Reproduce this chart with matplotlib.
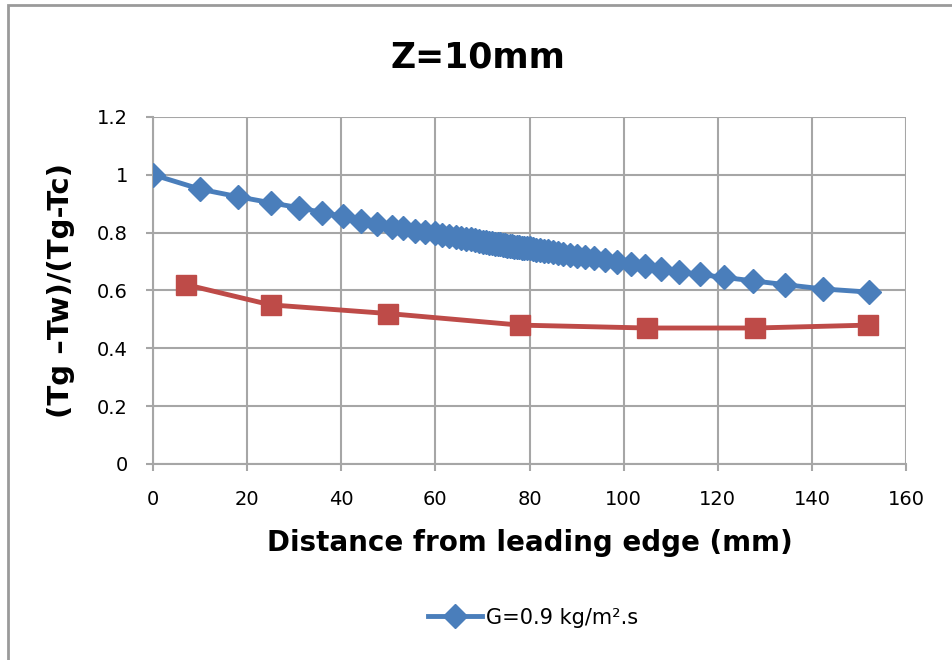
import matplotlib
matplotlib.use("Agg")
import matplotlib.pyplot as plt
from matplotlib.patches import Rectangle

# blue series: G=0.9 kg/m2.s
dist_g09 = [0, 10, 18, 25, 31, 36, 40.4, 44.3, 47.5, 50.7, 53.1, 55.7, 57.8, 59.9,
            61.5, 63, 64.3, 65.5, 66.6, 67.6, 68.5, 69.3, 70.1, 70.8, 71.5, 72.1,
            72.7, 73.3, 73.8, 74.3, 74.8, 75.3, 75.8, 76.3, 76.8, 77.3, 77.8, 78.3,
            78.8, 79.4, 80, 80.7, 81.4, 82.2, 83, 83.9, 84.9, 86, 87.2, 88.6, 90.1,
            91.8, 93.6, 96, 98.6, 101.6, 104.6, 108, 111.8, 116.2, 121.3, 127.5,
            134.3, 142.4, 152.2]
ratio_g09 = [1.0, 0.95, 0.924, 0.903, 0.886, 0.869, 0.856, 0.841, 0.831, 0.82, 0.814,
             0.807, 0.801, 0.797, 0.793, 0.789, 0.785, 0.782, 0.779, 0.776, 0.773,
             0.771, 0.769, 0.767, 0.765, 0.763, 0.762, 0.76, 0.759, 0.757, 0.756,
             0.755, 0.754, 0.752, 0.751, 0.75, 0.749, 0.748, 0.747, 0.746, 0.745,
             0.743, 0.741, 0.739, 0.737, 0.735, 0.732, 0.73, 0.727, 0.724, 0.72,
             0.716, 0.711, 0.705, 0.699, 0.691, 0.683, 0.674, 0.665, 0.655, 0.645,
             0.633, 0.62, 0.605, 0.594]

# red series
dist_red = [7, 25, 50, 78, 105, 128, 152]
ratio_red = [0.62, 0.55, 0.52, 0.48, 0.47, 0.47, 0.48]

xticks = [0, 20, 40, 60, 80, 100, 120, 140, 160]
yticks = [0, 0.2, 0.4, 0.6, 0.8, 1, 1.2]
ytick_labels = ["0", "0.2", "0.4", "0.6", "0.8", "1", "1.2"]

blue = "#4a7ebb"
red = "#be4b48"
grid_c = "#a6a6a6"

fig = plt.figure(figsize=(9.52, 6.6), dpi=100)
ax = fig.add_axes([0.1607, 0.297, 0.791, 0.526])

ax.plot(dist_red, ratio_red, color=red, lw=3.5, marker="s", markersize=14,
        zorder=3)
ax.plot(dist_g09, ratio_g09, color=blue, lw=3.5, marker="D", markersize=12,
        zorder=4, label="G=0.9 kg/m\u00b2.s")

ax.set_xlim(0, 160)
ax.set_ylim(0, 1.2)
ax.set_xticks(xticks)
ax.set_yticks(yticks)
ax.set_yticklabels(ytick_labels)
ax.tick_params(axis="both", labelsize=14, color=grid_c, length=5, width=1.5,
               direction="out")
ax.tick_params(axis="x", pad=14)
ax.tick_params(axis="y", pad=13)
ax.grid(True, color=grid_c, lw=1.5)
ax.set_axisbelow(True)
for s in ax.spines.values():
    s.set_visible(False)
ax.spines["left"].set_visible(True)
ax.spines["bottom"].set_visible(True)
ax.spines["left"].set_color(grid_c)
ax.spines["bottom"].set_color(grid_c)
ax.spines["left"].set_linewidth(1.5)
ax.spines["bottom"].set_linewidth(1.5)

ax.set_xlabel("Distance from leading edge (mm)", fontsize=20, fontweight="bold",
              labelpad=14)
ax.set_ylabel("(Tg \u2013Tw)/(Tg-Tc)", fontsize=21, fontweight="bold", labelpad=16)
fig.text(0.502, 0.913, "Z=10mm", fontsize=25, fontweight="bold",
         ha="center", va="center")

fig.legend(loc="center", bbox_to_anchor=(0.56, 0.064), frameon=False,
           fontsize=15, handlelength=2.6, handletextpad=0.2)

fig.patches.append(Rectangle((8 / 952, -0.1), 1.2, 1.1 - 5 / 660,
                             transform=fig.transFigure, fill=False,
                             edgecolor="#9a9a9a", lw=2))

fig.savefig("out.png", dpi=100)
